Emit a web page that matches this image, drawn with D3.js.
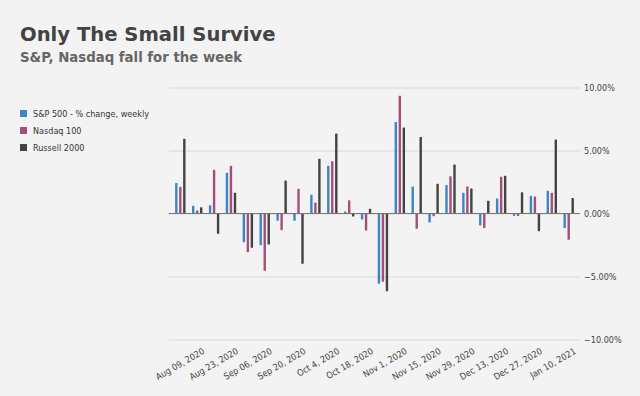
<!DOCTYPE html>
<html>
<head>
<meta charset="utf-8">
<script src="https://cdn.jsdelivr.net/npm/d3@7"></script>
<style>
  body { margin: 0; background: #f3f3f3; }
  .small { font-family: "DejaVu Sans Condensed", "DejaVu Sans", sans-serif; font-stretch: condensed; }
</style>
</head>
<body>
<div id="chart"></div>
<script>
// weekly categories (every other one is labelled on the axis)
const weeks = ["Aug 02, 2020", "Aug 09, 2020", "Aug 16, 2020", "Aug 23, 2020", "Aug 30, 2020", "Sep 06, 2020",
  "Sep 13, 2020", "Sep 20, 2020", "Sep 27, 2020", "Oct 4, 2020", "Oct 11, 2020", "Oct 18, 2020",
  "Oct 25, 2020", "Nov 1, 2020", "Nov 8, 2020", "Nov 15, 2020", "Nov 22, 2020", "Nov 29, 2020",
  "Dec 6, 2020", "Dec 13, 2020", "Dec 20, 2020", "Dec 27, 2020", "Jan 3, 2021", "Jan 10, 2021"]
const tickLabels = ["Aug 09, 2020", "Aug 23, 2020", "Sep 06, 2020", "Sep 20, 2020", "Oct 4, 2020", "Oct 18, 2020",
  "Nov 1, 2020", "Nov 15, 2020", "Nov 29, 2020", "Dec 13, 2020", "Dec 27, 2020", "Jan 10, 2021"]

const seriesNames = ["S&P 500 - % change, weekly", "Nasdaq 100", "Russell 2000"]
const seriesColors = ["#3d85c6", "#a64d79", "#434343"]

// % change per week
const sp500 = [2.43, 0.61, 0.66, 3.23, -2.28, -2.51, -0.58, -0.58, 1.48, 3.78, 0.16, -0.48,
  -5.57, 7.26, 2.14, -0.71, 2.27, 1.64, -0.95, 1.19, -0.19, 1.40, 1.80, -1.16]
const nasdaq = [2.12, 0.24, 3.47, 3.78, -3.07, -4.55, -1.32, 1.96, 0.87, 4.15, 1.06, -1.35,
  -5.41, 9.34, -1.21, -0.21, 2.96, 2.14, -1.16, 2.91, -0.19, 1.35, 1.64, -2.09]
const russell = [5.93, 0.50, -1.61, 1.64, -2.72, -2.46, 2.62, -3.99, 4.34, 6.35, -0.24, 0.37,
  -6.17, 6.83, 6.07, 2.37, 3.88, 1.98, 1.01, 2.99, 1.69, -1.40, 5.87, 1.24]

const yTicks = [-10, -5, 0, 5, 10]

function drawChart() {
  const width = 640
  const height = 396
  const plot = {left: 169, right: 580, top: 87.5, bottom: 339.5}

  const svg = d3.select("#chart")
    .append("svg")
    .attr("width", width)
    .attr("height", height)
    .style("background", "#f3f3f3")

  // titles
  svg.append("text")
    .attr("x", 20)
    .attr("y", 41)
    .attr("font-family", "DejaVu Sans, sans-serif")
    .attr("font-weight", "bold")
    .attr("font-size", "19.6px")
    .attr("fill", "#434343")
    .text("Only The Small Survive")

  svg.append("text")
    .attr("x", 20)
    .attr("y", 62)
    .attr("font-family", "DejaVu Sans, sans-serif")
    .attr("font-weight", "bold")
    .attr("font-size", "13.3px")
    .attr("fill", "#666666")
    .text("S&P, Nasdaq fall for the week")

  // scales
  const x0 = d3.scaleBand()
    .domain(weeks)
    .range([plot.left, plot.right])
    .paddingInner(0)
    .paddingOuter(0.17)

  const x1 = d3.scaleBand()
    .domain(seriesNames)
    .range([0, 10.4])
    .paddingInner(0.4)

  const yScale = d3.scaleLinear()
    .domain([-10, 10])
    .range([plot.bottom, plot.top])

  // gridlines + right-hand labels
  const yAxis = d3.axisRight(yScale)
    .tickValues(yTicks)
    .tickSize(-(plot.right - plot.left))
    .tickPadding(4)
    .tickFormat(d => d3.format(".2f")(d) + "%")

  const yg = svg.append("g")
    .attr("class", "small")
    .attr("transform", `translate(${plot.right}, 0)`)
    .call(yAxis)
  yg.select(".domain").remove()
  yg.selectAll("line").attr("stroke", "#d9d9d9")
  yg.selectAll("text").attr("font-size", "9px").attr("fill", "#444")

  // bars
  const rows = weeks.map((w, i) => ({week: w, values: [sp500[i], nasdaq[i], russell[i]]}))
  const offset = (x0.bandwidth() - 10.4) / 2

  const groups = svg.append("g")
    .selectAll("g")
    .data(rows)
    .join("g")
    .attr("transform", d => `translate(${x0(d.week) + offset}, 0)`)

  groups.selectAll("rect")
    .data(d => d.values.map((v, j) => ({name: seriesNames[j], value: v, color: seriesColors[j]})))
    .join("rect")
    .attr("x", d => x1(d.name))
    .attr("width", x1.bandwidth())
    .attr("y", d => yScale(Math.max(0, d.value)))
    .attr("height", d => Math.abs(yScale(d.value) - yScale(0)))
    .attr("rx", 0.6)
    .attr("fill", d => d.color)

  // zero baseline
  svg.append("line")
    .attr("x1", plot.left)
    .attr("x2", plot.right)
    .attr("y1", yScale(0))
    .attr("y2", yScale(0))
    .attr("stroke", "#777")
    .attr("stroke-width", 1)

  // slanted week labels
  svg.append("g")
    .attr("class", "small")
    .selectAll("text")
    .data(tickLabels)
    .join("text")
    .attr("transform", d => `translate(${x0(d) + x0.bandwidth() / 2 + 8}, 353) rotate(-30)`)
    .attr("text-anchor", "end")
    .attr("font-size", "9px")
    .attr("fill", "#444")
    .text(d => d)

  // legend
  const legend = svg.append("g")
    .attr("class", "small")
    .selectAll("g")
    .data(seriesNames)
    .join("g")
    .attr("transform", (d, i) => `translate(20, ${110 + i * 17})`)

  legend.append("rect")
    .attr("width", 7)
    .attr("height", 7)
    .attr("fill", (d, i) => seriesColors[i])

  legend.append("text")
    .attr("x", 13)
    .attr("y", 3.5)
    .attr("dy", "0.35em")
    .attr("font-size", "9px")
    .attr("fill", "#333")
    .text(d => d)
}

drawChart()
</script>
</body>
</html>
